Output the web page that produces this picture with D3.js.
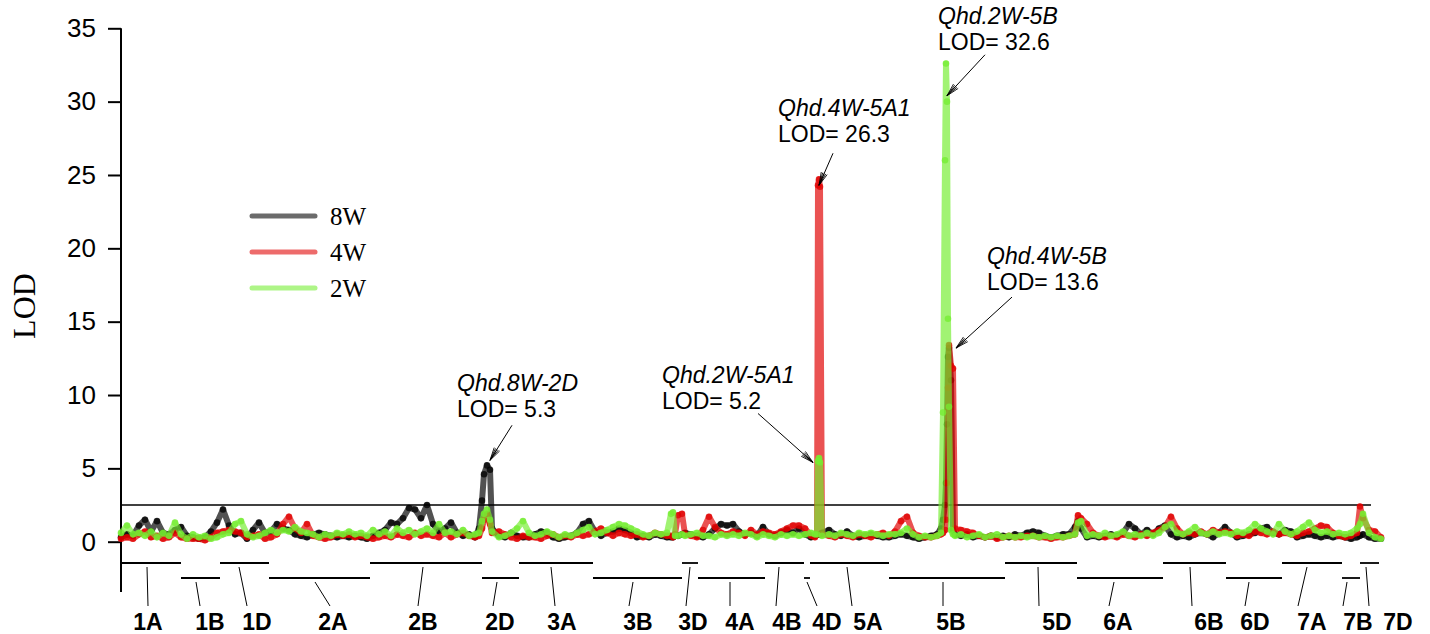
<!DOCTYPE html>
<html>
<head>
<meta charset="utf-8">
<script src="https://cdn.jsdelivr.net/npm/d3@7"></script>
<style>
  body { margin: 0; background: #fff; }
</style>
</head>
<body>
<svg id="chart"></svg>
<script>
// chromosomes in map order, length in cumulative map units
var chrNames = ["1A","1B","1D","2A","2B","2D","3A","3B","3D","4A","4B","4D",
                "5A","5B","5D","6A","6B","6D","7A","7B","7D"];
var chrLengths = [60,39,49,101,112,37,74,89,16,67,39,6,79,116,72,86,63,56,60,18,19];
var chrRows = [0,1,0,1,0,1,0,1,0,1,0,1,0,1,0,1,0,1,0,1,0];
// where the label leader starts / ends and where the label sits (map units)
var chrLeadTop = [26,75,118,194,302,376,430,512,569,609,658,686,726,822,917,993,1069,1128,1186,1226,1245];
var chrLeadBot = [27,79,126,209,297,372,434,508,565,609,655,696,731,822,918,988,1071,1124,1177,1222,1248];
var chrLabelAt = [27,89,136,212,302,379,441,517,572,619,666,706,747,830,936,997,1088,1134,1191,1237,1277];

// scan positions (cumulative map units)
var pos = [0,6,12,18,24,30,36,42,48,54,
  60,66,72,78,84,90,96,102,108,114,
  120,126,132,138,144,150,156,162,168,174,
  180,186,192,198,204,210,216,222,228,234,
  240,246,252,258,264,270,276,282,288,294,
  300,306,312,318,324,330,336,342,348,354,
  358,361,363,366,369,371,378,384,390,396,
  402,408,414,420,426,432,438,444,450,456,
  462,468,474,480,486,492,498,504,510,516,
  522,528,534,540,546,550,552,554,557,561,
  564,570,576,582,588,594,600,606,612,618,
  624,630,636,642,648,654,660,666,672,678,
  684,690,694,696,697,698,699,701,708,714,
  720,726,732,738,744,750,756,762,768,774,
  780,786,792,798,804,810,816,820,822,824,
  825,826,827,828,830,832,834,840,846,852,
  858,864,870,876,882,888,894,900,906,912,
  918,924,930,936,942,948,954,957,960,966,
  972,978,984,990,996,1002,1008,1014,1020,1026,
  1032,1038,1044,1050,1056,1062,1068,1074,1080,1086,
  1092,1098,1104,1110,1116,1122,1128,1134,1140,1146,
  1152,1158,1164,1170,1176,1182,1188,1194,1200,1206,
  1212,1218,1224,1230,1236,1239,1242,1248,1254,1260];

var lod8W = [0.3,0.5,0.4,1.1,1.5,0.7,1.4,0.6,0.5,0.8,
  1.0,0.4,0.3,0.2,0.3,0.7,1.3,2.2,1.1,0.5,
  0.6,0.2,0.8,1.3,0.6,0.7,1.2,0.9,0.8,0.5,
  0.4,0.3,0.5,0.6,0.5,0.4,0.3,0.4,0.3,0.4,
  0.3,0.2,0.4,0.6,0.8,1.3,1.2,1.6,2.3,2.2,
  1.6,2.5,1.2,0.7,0.9,1.3,0.6,0.4,0.5,0.3,
  0.9,2.8,4.6,5.2,4.9,0.9,0.4,0.3,0.6,0.4,
  0.3,0.3,0.5,0.7,0.6,0.3,0.2,0.3,0.4,0.6,
  1.2,1.4,0.7,0.4,0.6,0.7,0.9,0.8,0.6,0.3,
  0.4,0.3,0.5,0.4,0.3,0.3,0.3,0.4,0.4,0.5,
  0.6,0.5,0.4,0.3,0.5,0.9,1.2,1.1,1.2,0.7,
  0.5,0.6,0.4,1.0,0.5,0.4,0.6,0.8,0.6,0.9,
  0.5,0.3,0.4,0.5,0.5,0.5,0.5,0.6,0.8,0.5,
  0.4,0.7,0.4,0.3,0.4,0.5,0.4,0.3,0.3,0.4,
  0.5,0.4,0.3,0.2,0.3,0.4,0.5,0.9,1.5,2.5,
  4.0,8.0,12.6,13.2,11.0,0.8,0.5,0.4,0.5,0.3,
  0.4,0.3,0.4,0.3,0.4,0.3,0.5,0.4,0.6,0.7,
  0.6,0.4,0.3,0.4,0.5,0.5,1.0,1.4,0.9,0.3,
  0.4,0.3,0.4,0.5,0.4,0.6,1.2,0.9,0.5,0.8,
  0.5,0.9,1.1,0.5,0.3,0.4,0.3,0.5,0.6,0.5,
  0.3,0.6,1.0,0.6,0.3,0.4,0.5,0.6,0.9,1.0,
  0.6,0.5,0.8,0.7,0.3,0.4,0.5,0.4,0.3,0.4,
  0.3,0.4,0.3,0.2,0.3,0.4,0.5,0.3,0.2,0.2];

var lod4W = [0.2,0.3,0.2,0.5,0.7,0.3,0.4,0.2,0.3,0.6,
  0.3,0.2,0.2,0.2,0.1,0.3,0.6,0.7,0.8,0.7,
  0.6,0.3,0.4,0.5,0.2,0.3,0.5,1.2,1.7,0.9,
  0.6,1.2,0.4,0.3,0.2,0.3,0.5,0.4,0.5,0.3,
  0.4,0.3,0.2,0.3,0.4,0.3,0.5,0.4,0.3,0.6,
  0.4,0.5,0.4,0.3,0.6,0.3,0.5,0.6,0.4,0.3,
  0.4,0.9,1.5,1.9,1.2,0.6,0.7,0.5,0.3,0.2,
  0.4,0.3,0.3,0.2,0.4,0.5,0.3,0.4,0.3,0.5,
  0.4,0.5,0.7,0.9,0.6,0.4,0.6,0.5,0.4,0.5,
  0.3,0.4,0.6,0.5,0.4,0.4,0.3,0.5,1.8,1.9,
  0.5,0.4,0.3,0.8,1.7,1.0,0.6,0.5,0.7,0.6,
  0.4,0.8,0.5,0.7,0.6,0.5,0.7,0.9,1.1,1.1,
  0.9,0.4,0.3,0.5,24.3,24.7,24.2,0.5,0.4,0.3,
  0.5,0.4,0.3,0.5,0.4,0.3,0.5,0.6,0.4,0.7,
  1.4,1.7,0.6,0.4,0.3,0.3,0.4,0.5,0.6,0.8,
  1.5,4.0,10.5,13.4,12.0,11.8,0.9,0.8,0.7,0.6,
  0.4,0.3,0.4,0.2,0.3,0.4,0.3,0.3,0.4,0.4,
  0.3,0.3,0.2,0.3,0.3,0.4,0.5,1.8,1.6,1.2,
  0.6,0.4,0.3,0.4,0.3,0.5,0.4,0.3,0.5,0.4,
  0.6,0.8,1.0,1.7,0.9,0.5,0.6,0.5,0.7,0.5,
  0.8,0.6,0.7,0.6,0.4,0.5,0.4,0.7,0.6,0.5,
  0.7,0.5,0.6,0.5,0.4,0.6,0.7,0.9,1.1,1.0,
  0.6,0.4,0.3,0.4,0.6,2.4,1.6,0.8,0.7,0.3];

var lod2W = [0.6,1.1,0.5,0.6,0.4,0.7,0.3,0.6,0.4,1.3,
  0.5,0.2,0.5,0.3,0.4,0.2,0.3,0.5,0.6,1.2,
  1.4,0.5,0.3,0.4,0.6,0.8,0.6,0.8,0.7,1.0,
  0.7,0.6,0.5,0.3,0.5,0.4,0.6,0.5,0.7,0.5,
  0.6,0.4,0.8,0.5,0.7,0.4,0.9,0.6,0.8,0.5,
  0.7,0.9,0.6,1.2,0.6,0.7,0.5,0.8,0.4,0.5,
  0.6,1.4,1.9,2.2,1.5,0.7,0.3,0.4,0.6,0.9,
  1.4,0.6,0.4,0.5,0.7,0.5,0.3,0.5,0.4,0.6,
  0.8,1.0,0.5,0.6,0.8,1.0,1.2,1.1,0.9,0.7,
  0.5,0.4,0.6,0.5,0.6,1.9,2.0,0.4,0.4,0.5,
  0.4,0.5,0.6,0.4,0.4,0.3,0.5,0.4,0.5,0.4,
  0.6,0.5,0.3,0.5,0.4,0.3,0.5,0.4,0.5,0.4,
  0.5,0.6,0.5,0.5,5.5,5.7,5.4,0.4,0.5,0.4,
  0.6,0.5,0.4,0.6,0.5,0.6,0.5,0.4,0.5,0.5,
  0.6,0.9,0.5,0.3,0.4,0.3,0.4,0.6,8.8,26.0,
  32.6,30.0,15.2,9.2,0.8,0.5,0.4,0.5,0.3,0.4,
  0.5,0.3,0.4,0.5,0.3,0.4,0.3,0.4,0.3,0.4,
  0.3,0.4,0.3,0.4,0.3,0.4,0.5,1.3,1.4,0.4,
  0.5,0.4,0.6,0.4,0.5,0.7,0.4,0.5,0.4,0.6,
  0.4,0.6,1.0,1.2,0.6,0.5,0.7,1.0,0.6,0.5,
  0.7,0.5,0.6,0.5,0.7,0.6,0.8,1.2,0.9,0.7,
  0.5,1.2,0.7,0.5,0.7,1.0,1.3,0.8,0.6,0.7,
  0.5,0.6,0.5,0.6,0.9,1.2,1.9,0.6,0.3,0.2];

var seriesNames = ["8W","4W","2W"];
var seriesColors = ["#000000","#e00000","#74ee30"];
var threshold = 2.5;
var yTicks = [0,5,10,15,20,25,30,35];

// QTL call-outs
var qtlNames = ["Qhd.8W-2D","Qhd.2W-5A1","Qhd.4W-5A1","Qhd.2W-5B","Qhd.4W-5B"];
var qtlLods = ["5.3","5.2","26.3","32.6","13.6"];
var qtlTipPos = [369,692,698,826,835];
var qtlTipLod = [5.55,5.4,24.3,30.4,13.2];
// offsets (px) from the arrow tip: tail of the arrow, and text anchor
var qtlTail = [[22,-35],[-55,-49],[14,-32],[38,-41],[56,-51]];
var qtlText = [[-33,-69],[-151,-79],[-41,-69],[-9,-72],[31,-84]];

var width = 1430, height = 634;

var svg = d3.select("#chart")
    .attr("width", width)
    .attr("height", height)
    .style("background", "#fff");

var x = d3.scaleLinear().domain([0, 1262]).range([121, 1383]);
var y = d3.scaleLinear().domain([0, 35]).range([541.7, 28.3]);

// y axis
var yAxis = d3.axisLeft(y).tickValues(yTicks).tickSize(13).tickPadding(12);
var gy = svg.append("g")
    .attr("transform", "translate(" + x(0) + ",0)")
    .call(yAxis);
gy.select(".domain").remove();
gy.selectAll(".tick line").attr("stroke", "#000").attr("stroke-width", 2);
gy.selectAll(".tick text")
    .attr("fill", "#000")
    .style("font-family", "Arial, 'Liberation Sans', sans-serif")
    .style("font-size", "26px");
gy.append("line")
    .attr("x1", 0).attr("x2", 0)
    .attr("y1", y(35)).attr("y2", 592)
    .attr("stroke", "#000").attr("stroke-width", 2);

svg.append("text")
    .attr("transform", "translate(35," + 306 + ") rotate(-90)")
    .attr("text-anchor", "middle")
    .style("font-family", "'Times New Roman', 'Liberation Serif', serif")
    .style("font-size", "32px")
    .text("LOD");

// significance threshold
svg.append("line")
    .attr("x1", x(0)).attr("x2", x(1250))
    .attr("y1", y(threshold)).attr("y2", y(threshold))
    .attr("stroke", "#000").attr("stroke-width", 1.5);

// LOD curves
var allSeries = [lod8W, lod4W, lod2W];
var line = d3.line()
    .x(function(d, i) { return x(pos[i]); })
    .y(function(d) { return y(d); });

allSeries.forEach(function(vals, k) {
  var g = svg.append("g");
  g.append("path")
      .datum(vals)
      .attr("fill", "none")
      .attr("stroke", seriesColors[k])
      .attr("stroke-width", 6)
      .attr("stroke-linejoin", "round")
      .attr("stroke-linecap", "round")
      .attr("stroke-opacity", 0.68)
      .attr("d", line);
  g.selectAll("circle")
      .data(vals).enter()
      .append("circle")
      .attr("cx", function(d, i) { return x(pos[i]); })
      .attr("cy", function(d) { return y(d); })
      .attr("r", 3.3)
      .attr("fill", seriesColors[k])
      .attr("fill-opacity", 0.75);
});

// chromosome bars and labels
var starts = [];
var acc = 0;
chrLengths.forEach(function(l) { starts.push(acc); acc += l; });
var rowY = [563, 578];

var gc = svg.append("g").attr("stroke", "#000");
chrNames.forEach(function(name, i) {
  gc.append("line")
      .attr("x1", x(starts[i])).attr("x2", x(starts[i] + chrLengths[i]))
      .attr("y1", rowY[chrRows[i]]).attr("y2", rowY[chrRows[i]])
      .attr("stroke-width", 1.8);
  gc.append("line")
      .attr("x1", x(chrLeadTop[i])).attr("x2", x(chrLeadBot[i]))
      .attr("y1", rowY[chrRows[i]] + 4).attr("y2", 606)
      .attr("stroke-width", 1);
  svg.append("text")
      .attr("x", x(chrLabelAt[i]))
      .attr("y", 630)
      .attr("text-anchor", "middle")
      .style("font-family", "Arial, 'Liberation Sans', sans-serif")
      .style("font-weight", "bold")
      .style("font-size", "23px")
      .text(name);
});

// legend
var legend = svg.append("g");
seriesNames.forEach(function(name, k) {
  var ly = 216 + k * 36;
  legend.append("line")
      .attr("x1", 252).attr("x2", 315)
      .attr("y1", ly).attr("y2", ly)
      .attr("stroke", seriesColors[k])
      .attr("stroke-opacity", 0.58)
      .attr("stroke-width", 5)
      .attr("stroke-linecap", "round");
  legend.append("text")
      .attr("x", 330).attr("y", ly + 9)
      .style("font-family", "'Times New Roman', 'Liberation Serif', serif")
      .style("font-size", "25px")
      .text(name);
});

// arrows + QTL labels
svg.append("defs").append("marker")
    .attr("id", "arr")
    .attr("viewBox", "-14 -5 16 10")
    .attr("refX", 0).attr("refY", 0)
    .attr("markerWidth", 16).attr("markerHeight", 10)
    .attr("markerUnits", "userSpaceOnUse")
    .attr("orient", "auto")
  .append("path")
    .attr("d", "M-13,-3.2 L0,0 L-13,3.2 M-13,-1.6 L0,0 L-13,1.6 M-13,0 L0,0")
    .attr("fill", "none")
    .attr("stroke", "#000")
    .attr("stroke-width", 0.8);

qtlNames.forEach(function(name, i) {
  var tx = x(qtlTipPos[i]), ty = y(qtlTipLod[i]);
  svg.append("line")
      .attr("x1", tx + qtlTail[i][0]).attr("y1", ty + qtlTail[i][1])
      .attr("x2", tx).attr("y2", ty)
      .attr("stroke", "#000").attr("stroke-width", 1)
      .attr("marker-end", "url(#arr)");
  var t = svg.append("text")
      .attr("x", tx + qtlText[i][0])
      .attr("y", ty + qtlText[i][1])
      .style("font-family", "Arial, 'Liberation Sans', sans-serif")
      .style("font-size", "23px");
  t.append("tspan").style("font-style", "italic").text(name);
  t.append("tspan")
      .attr("x", tx + qtlText[i][0])
      .attr("dy", 26)
      .text("LOD= " + qtlLods[i]);
});
</script>
</body>
</html>
